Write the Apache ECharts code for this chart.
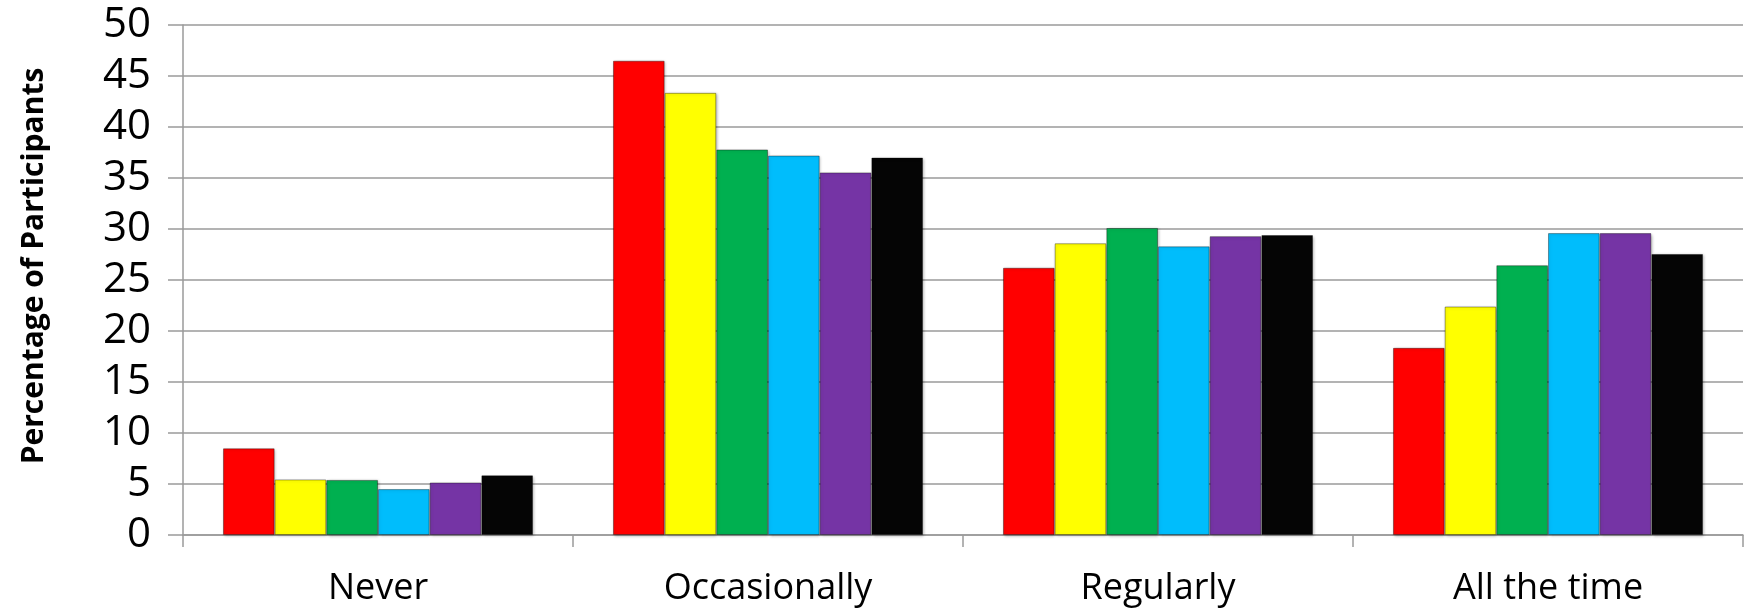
<!DOCTYPE html>
<html><head><meta charset="utf-8">
<script src="https://cdn.jsdelivr.net/npm/echarts@6/dist/echarts.min.js"></script>
<style>html,body{margin:0;padding:0;background:#fff}#c{width:1746px;height:609px}</style>
</head><body><div id="c"></div>
<script>
const categories = ['Never', 'Occasionally', 'Regularly', 'All the time'];
const seriesNames = ['Group 1', 'Group 2', 'Group 3', 'Group 4', 'Group 5', 'Group 6'];
const colors = ['#FF0000', '#FFFF00', '#00B050', '#00BDFC', '#7534A5', '#050505'];
const s1 = [8.5, 46.5, 26.2, 18.35];
const s2 = [5.45, 43.35, 28.6, 22.4];
const s3 = [5.4, 37.8, 30.1, 26.45];
const s4 = [4.5, 37.2, 28.3, 29.6];
const s5 = [5.15, 35.55, 29.3, 29.6];
const s6 = [5.85, 37.0, 29.4, 27.55];
const yTicks = { min: 0, max: 50, interval: 5 };
const allSeries = [s1, s2, s3, s4, s5, s6];

const chart = echarts.init(document.getElementById('c'));
chart.setOption({
  animation: false,
  grid: { left: 183, right: 3, top: 25, bottom: 74 },
  xAxis: {
    type: 'category', data: categories,
    axisLine: { lineStyle: { color: '#9a9a9a', width: 1.5 } },
    axisTick: { show: true, length: 12, lineStyle: { color: '#9a9a9a', width: 1.5 } },
    axisLabel: { fontFamily: 'Open Sans', fontSize: 36, color: '#000', margin: 36 }
  },
  yAxis: {
    type: 'value', min: yTicks.min, max: yTicks.max, interval: yTicks.interval,
    name: 'Percentage of Participants', nameLocation: 'middle', nameGap: 134,
    nameTextStyle: { fontFamily: 'Open Sans', fontWeight: 'bold', fontSize: 30, color: '#000', padding: [0, 0, 0, 28] },
    axisLine: { show: true, lineStyle: { color: '#9a9a9a', width: 1.5 } },
    axisTick: { show: true, length: 15, lineStyle: { color: '#9a9a9a', width: 1.5 } },
    splitLine: { lineStyle: { color: '#9a9a9a', width: 1.5 } },
    axisLabel: { fontFamily: 'Open Sans', fontSize: 42, color: '#000', margin: 32 }
  },
  series: allSeries.map((d, i) => ({
    name: seriesNames[i], type: 'bar', data: d,
    barGap: '0%', barCategoryGap: '20.5%',
    itemStyle: {
      color: colors[i],
      borderColor: 'rgba(0,0,0,0.35)', borderWidth: 1,
      shadowColor: 'rgba(0,0,0,0.3)', shadowBlur: 3, shadowOffsetX: 1, shadowOffsetY: 1
    }
  }))
});
</script></body></html>
